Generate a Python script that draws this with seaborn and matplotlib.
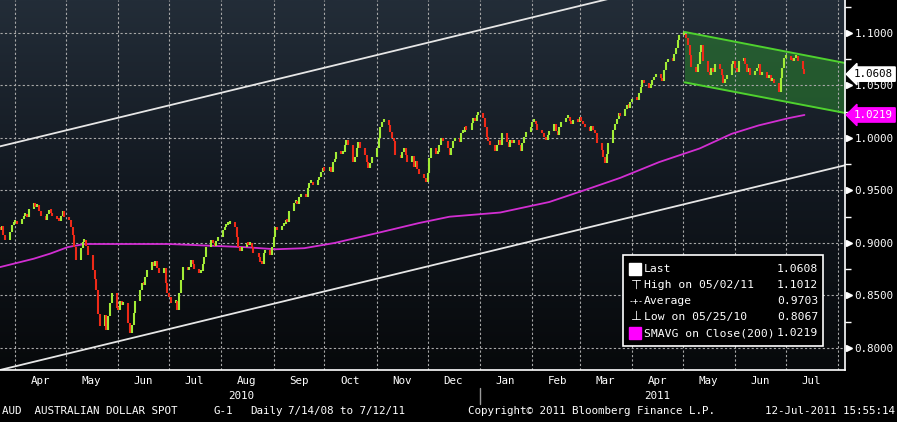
import numpy as np
import pandas as pd
import matplotlib
matplotlib.use("Agg")
import matplotlib.pyplot as plt
import matplotlib.dates as mdates
import matplotlib.transforms as mtransforms
from matplotlib.colors import LinearSegmentedColormap
from matplotlib.patches import Rectangle
import seaborn as sns

# ===============================
# Data
# ===============================
# daily closes, AUD spot, one list per month
mar_2010 = [0.912, 0.916, 0.908, 0.903, 0.910, 0.917, 0.919]
apr_2010 = [0.920, 0.918, 0.923, 0.926, 0.928, 0.925, 0.932, 0.938, 0.934, 0.936, 0.930,
            0.926, 0.922, 0.928, 0.931, 0.929, 0.926, 0.923, 0.921, 0.926, 0.930, 0.925]
may_2010 = [0.922, 0.915, 0.908, 0.896, 0.884, 0.895, 0.901, 0.903, 0.897, 0.889, 0.874,
            0.866, 0.855, 0.832, 0.821, 0.831, 0.817, 0.830, 0.843, 0.852, 0.838]
jun_2010 = [0.836, 0.845, 0.841, 0.843, 0.824, 0.814, 0.822, 0.833, 0.845, 0.855, 0.862,
            0.860, 0.868, 0.874, 0.882, 0.878, 0.883, 0.876, 0.871, 0.876, 0.862, 0.852]
jul_2010 = [0.849, 0.843, 0.845, 0.836, 0.852, 0.865, 0.877, 0.874, 0.877, 0.884, 0.880,
            0.875, 0.871, 0.873, 0.880, 0.887, 0.896, 0.903, 0.900, 0.897, 0.902, 0.906]
aug_2010 = [0.912, 0.915, 0.917, 0.918, 0.920, 0.915, 0.906, 0.896, 0.892, 0.896, 0.900,
            0.898, 0.900, 0.896, 0.890, 0.887, 0.882, 0.880, 0.890, 0.893, 0.889, 0.896]
sep_2010 = [0.906, 0.915, 0.912, 0.916, 0.918, 0.922, 0.920, 0.930, 0.938, 0.940, 0.937,
            0.944, 0.947, 0.944, 0.952, 0.957, 0.958, 0.955, 0.960, 0.963, 0.968, 0.970]
oct_2010 = [0.969, 0.972, 0.968, 0.977, 0.980, 0.987, 0.985, 0.987, 0.993, 0.998, 0.993,
            0.977, 0.982, 0.990, 0.996, 0.990, 0.984, 0.977, 0.971, 0.976, 0.982]
nov_2010 = [0.990, 1.000, 1.010, 1.015, 1.017, 1.012, 1.006, 1.000, 0.997, 0.984, 0.981,
            0.987, 0.990, 0.984, 0.977, 0.983, 0.972, 0.978, 0.970, 0.966, 0.962, 0.958]
dec_2010 = [0.967, 0.981, 0.990, 0.985, 0.987, 0.993, 1.000, 0.997, 0.990, 0.984, 0.990,
            0.997, 1.000, 0.996, 1.005, 1.006, 1.010, 1.008, 1.014, 1.019, 1.016, 1.022, 1.024]
jan_2011 = [1.019, 1.010, 1.001, 0.997, 0.993, 0.988, 0.993, 0.998, 0.993, 1.005, 0.996,
            0.991, 0.998, 0.995, 0.998, 0.993, 0.988, 0.995, 1.001, 1.006, 1.010]
feb_2011 = [1.015, 1.016, 1.013, 1.008, 1.005, 1.001, 0.998, 1.003, 1.007, 1.013, 1.007,
            1.003, 1.010, 1.015, 1.019, 1.020, 1.016, 1.013, 1.017, 1.015]
mar_2011 = [1.020, 1.016, 1.013, 1.010, 1.007, 1.011, 1.008, 1.005, 0.995, 0.989, 0.982,
            0.976, 0.985, 0.995, 1.008, 1.013, 1.018, 1.024, 1.021, 1.028, 1.031, 1.029, 1.034]
apr_2011 = [1.037, 1.036, 1.043, 1.049, 1.055, 1.052, 1.048, 1.050, 1.055, 1.058, 1.061,
            1.057, 1.054, 1.065, 1.072, 1.075, 1.073, 1.080, 1.086, 1.093, 1.098]
may_2011 = [1.099, 1.095, 1.089, 1.079, 1.068, 1.063, 1.070, 1.082, 1.089, 1.073, 1.063,
            1.060, 1.067, 1.063, 1.070, 1.066, 1.060, 1.052, 1.056, 1.060, 1.070, 1.073]
jun_2011 = [1.067, 1.063, 1.073, 1.076, 1.070, 1.063, 1.067, 1.060, 1.064, 1.067, 1.070,
            1.060, 1.063, 1.057, 1.060, 1.054, 1.056, 1.052, 1.044, 1.057, 1.067, 1.076]
jul_2011 = [1.078, 1.074, 1.073, 1.076, 1.078, 1.073, 1.066, 1.0608]

first_open = 0.915

months = [
    ("2010-03-23", "2010-03-31", mar_2010), ("2010-04-01", "2010-04-30", apr_2010),
    ("2010-05-01", "2010-05-31", may_2010), ("2010-06-01", "2010-06-30", jun_2010),
    ("2010-07-01", "2010-07-31", jul_2010), ("2010-08-01", "2010-08-31", aug_2010),
    ("2010-09-01", "2010-09-30", sep_2010), ("2010-10-01", "2010-10-31", oct_2010),
    ("2010-11-01", "2010-11-30", nov_2010), ("2010-12-01", "2010-12-31", dec_2010),
    ("2011-01-01", "2011-01-31", jan_2011), ("2011-02-01", "2011-02-28", feb_2011),
    ("2011-03-01", "2011-03-31", mar_2011), ("2011-04-01", "2011-04-30", apr_2011),
    ("2011-05-01", "2011-05-31", may_2011), ("2011-06-01", "2011-06-30", jun_2011),
    ("2011-07-01", "2011-07-12", jul_2011),
]

# 200-day simple moving average (magenta line)
sma_dates = ["2010-03-23", "2010-04-02", "2010-04-12", "2010-04-22", "2010-05-02", "2010-05-12",
             "2010-07-01", "2010-08-15", "2010-09-02", "2010-09-19", "2010-10-07", "2010-10-31",
             "2010-11-26", "2010-12-14", "2011-01-13", "2011-02-11", "2011-03-07", "2011-03-25",
             "2011-04-17", "2011-05-11", "2011-05-30", "2011-06-15", "2011-07-03", "2011-07-12"]
sma_vals = [0.877, 0.881, 0.885, 0.890, 0.896, 0.899,
            0.899, 0.896, 0.894, 0.895, 0.900, 0.909,
            0.919, 0.925, 0.929, 0.939, 0.952, 0.962,
            0.977, 0.990, 1.004, 1.012, 1.019, 1.0219]

# hand drawn trend channel (white) and flag (green)
chan_dates = ["2010-03-23", "2011-08-05"]
chan_upper = [0.992, 1.187]
chan_lower = [0.779, 0.974]
flag_dates = ["2011-05-02", "2011-08-05"]
flag_upper = [1.101, 1.0714]
flag_lower = [1.053, 1.0238]

y_ticks = [0.80, 0.85, 0.90, 0.95, 1.00, 1.05, 1.10]
y_minor = [0.825, 0.875, 0.925, 0.975, 1.025, 1.075, 1.125]
x_start, x_end = "2010-03-23", "2011-08-05"
y_lo, y_hi = 0.779, 1.1314

last_price = 1.0608
sma_last = 1.0219
legend_labels = ["Last", "High on 05/02/11", "Average", "Low on 05/25/10", "SMAVG on Close(200)"]
legend_values = ["1.0608", "1.1012", "0.9703", "0.8067", "1.0219"]

UP = "#a2ec36"
DOWN = "#ee2a18"
SMA_COL = "#d22ed2"
W, H = 897, 422
FS = 7.8  # bloomberg terminal font is a narrow fixed pitch

# ===============================
# Build daily frame
# ===============================
frames = []
for start, end, vals in months:
    days = pd.bdate_range(start, end)
    if len(days) != len(vals):
        days = pd.to_datetime(np.linspace(days[0].value, days[-1].value, len(vals)))
    frames.append(pd.DataFrame({"date": days, "close": vals}))
df = pd.concat(frames, ignore_index=True)
df["open"] = df["close"].shift(1).fillna(first_open)

# ===============================
# Style
# ===============================
sns.set_theme(style="dark")
plt.rcParams["font.family"] = ["DejaVu Sans Mono", "DejaVu Sans"]
plt.rcParams["axes.unicode_minus"] = False

fig = plt.figure(figsize=(W / 100, H / 100), dpi=100, facecolor="black")
ax = fig.add_axes([0, 52 / H, 845 / W, 370 / H])

def fx(px):
    return px / W

def fy(py):
    return 1 - py / H

# gradient background
bg = LinearSegmentedColormap.from_list("bg", ["#07090b", "#121820", "#232d38"])
ax.imshow(np.linspace(0, 1, 256).reshape(-1, 1), extent=[0, 1, 0, 1], transform=ax.transAxes,
          cmap=bg, aspect="auto", origin="lower", zorder=0)

# ===============================
# Candles
# ===============================
lo = np.minimum(df["open"], df["close"])
hi = np.maximum(np.maximum(df["open"], df["close"]), lo + 0.003)
cols = np.where(df["close"] >= df["open"], UP, DOWN)
ax.vlines(df["date"], lo, hi, colors=cols, lw=1.5, zorder=4)

# SMA
sns.lineplot(x=pd.to_datetime(sma_dates), y=sma_vals, ax=ax, color=SMA_COL, lw=1.3, zorder=3)

# channel lines
cd = pd.to_datetime(chan_dates)
ax.plot(cd, chan_upper, color="#e6e6e6", lw=1.3, zorder=3)
ax.plot(cd, chan_lower, color="#e6e6e6", lw=1.3, zorder=3)

# flag
fd = pd.to_datetime(flag_dates)
ax.fill_between(fd, flag_lower, flag_upper, color="#2f9a30", alpha=0.45, lw=0, zorder=2)
ax.plot(fd, flag_upper, color="#4fd22e", lw=1.4, zorder=5)
ax.plot(fd, flag_lower, color="#4fd22e", lw=1.4, zorder=5)

ax.set_xlim(pd.Timestamp(x_start), pd.Timestamp(x_end))
ax.set_ylim(y_lo, y_hi)

# ===============================
# Axes, grid, ticks
# ===============================
ax.grid(True, which="major", color="#a8a8a8", ls=(0, (2, 2)), lw=0.8)
ax.set_axisbelow(False)
for s in ["left", "top"]:
    ax.spines[s].set_visible(False)
for s in ["right", "bottom"]:
    ax.spines[s].set_color("white")
    ax.spines[s].set_linewidth(1.2)
    ax.spines[s].set_zorder(6)

ax.yaxis.tick_right()
ax.set_yticks(y_ticks)
ax.set_yticklabels([f"{v:.4f}" for v in y_ticks])
ax.set_yticks(y_minor, minor=True)
ax.tick_params(axis="y", which="major", length=0, pad=7, labelcolor="white", labelsize=FS)
ax.tick_params(axis="y", which="minor", length=4, width=1, color="white", direction="out")

ax.xaxis.set_major_locator(mdates.MonthLocator())
ax.xaxis.set_major_formatter(plt.NullFormatter())
ax.xaxis.set_minor_locator(mdates.MonthLocator(bymonthday=16))
ax.xaxis.set_minor_formatter(mdates.DateFormatter("%b"))
ax.tick_params(axis="x", which="major", length=5, width=1, color="white", direction="out")
ax.tick_params(axis="x", which="minor", length=0, pad=4, labelcolor="white", labelsize=FS)
ax.set_xlabel("")
ax.set_ylabel("")

# arrow markers at the major y ticks
ytr = mtransforms.blended_transform_factory(ax.transAxes, ax.transData)
ax.plot([1.0 + 4 / 845] * len(y_ticks), y_ticks, ls="none", marker=">", ms=5, color="white",
        transform=ytr, clip_on=False, zorder=7)

# price flags on the right axis
ax.text(1.0 + 9 / 845, last_price, f"{last_price:.4f}", transform=ytr, ha="left", va="center",
        color="black", fontsize=FS, zorder=8, clip_on=False,
        bbox=dict(boxstyle="larrow,pad=0.2", fc="white", ec="white"))
ax.text(1.0 + 9 / 845, sma_last, f"{sma_last:.4f}", transform=ytr, ha="left", va="center",
        color="white", fontsize=FS, zorder=8, clip_on=False,
        bbox=dict(boxstyle="larrow,pad=0.2", fc="#ff00ff", ec="#ff00ff"))

# year labels and separator
xtr = mtransforms.blended_transform_factory(ax.transData, ax.transAxes)
ax.text(pd.Timestamp("2010-08-13"), -26 / 370, "2010", transform=xtr, ha="center", va="center",
        color="white", fontsize=FS)
ax.text(pd.Timestamp("2011-04-16"), -26 / 370, "2011", transform=xtr, ha="center", va="center",
        color="white", fontsize=FS)
ax.plot([pd.Timestamp("2011-01-01")] * 2, [-18 / 370, -34 / 370], color="#9a9a9a", lw=1,
        transform=xtr, clip_on=False)

# ===============================
# Legend box
# ===============================
fig.add_artist(Rectangle((fx(623), fy(346)), fx(823) - fx(623), fy(255) - fy(346),
                         transform=fig.transFigure, fc="black", ec="white", lw=1.2, zorder=10))
row_y = [269, 285, 301, 317, 333]
for i, (lab, val) in enumerate(zip(legend_labels, legend_values)):
    fig.text(fx(644), fy(row_y[i]), lab, color="white", fontsize=FS + 0.4, va="center", ha="left", zorder=11)
    fig.text(fx(818), fy(row_y[i]), val, color="white", fontsize=FS + 0.4, va="center", ha="right", zorder=11)
for i, c in [(0, "white"), (4, "#ff00ff")]:
    fig.add_artist(Rectangle((fx(629), fy(row_y[i] + 6)), 12 / W, 12 / H, transform=fig.transFigure,
                             fc=c, ec=c, zorder=11))
fig.text(fx(636), fy(row_y[1]), "\u22a4", color="white", fontsize=9, va="center", ha="center", zorder=11,
         family=["DejaVu Sans"])
fig.text(fx(636), fy(row_y[2]), "-+-", color="white", fontsize=6, va="center", ha="center", zorder=11)
fig.text(fx(636), fy(row_y[3]), "\u22a5", color="white", fontsize=9, va="center", ha="center", zorder=11,
         family=["DejaVu Sans"])

# ===============================
# Footer
# ===============================
foot = dict(color="white", fontsize=FS, va="center", ha="left")
fig.text(fx(2), fy(411), "AUD  AUSTRALIAN DOLLAR SPOT", **foot)
fig.text(fx(213), fy(411), "G-1", **foot)
fig.text(fx(250), fy(411), "Daily", **foot)
fig.text(fx(288), fy(411), "7/14/08 to 7/12/11", **foot)
fig.text(fx(468), fy(411), "Copyright\u00a9 2011 Bloomberg Finance L.P.", **foot)
fig.text(fx(895), fy(411), "12-Jul-2011 15:55:14", color="white", fontsize=FS, va="center", ha="right")

fig.savefig("out.png", dpi=100, facecolor="black")
